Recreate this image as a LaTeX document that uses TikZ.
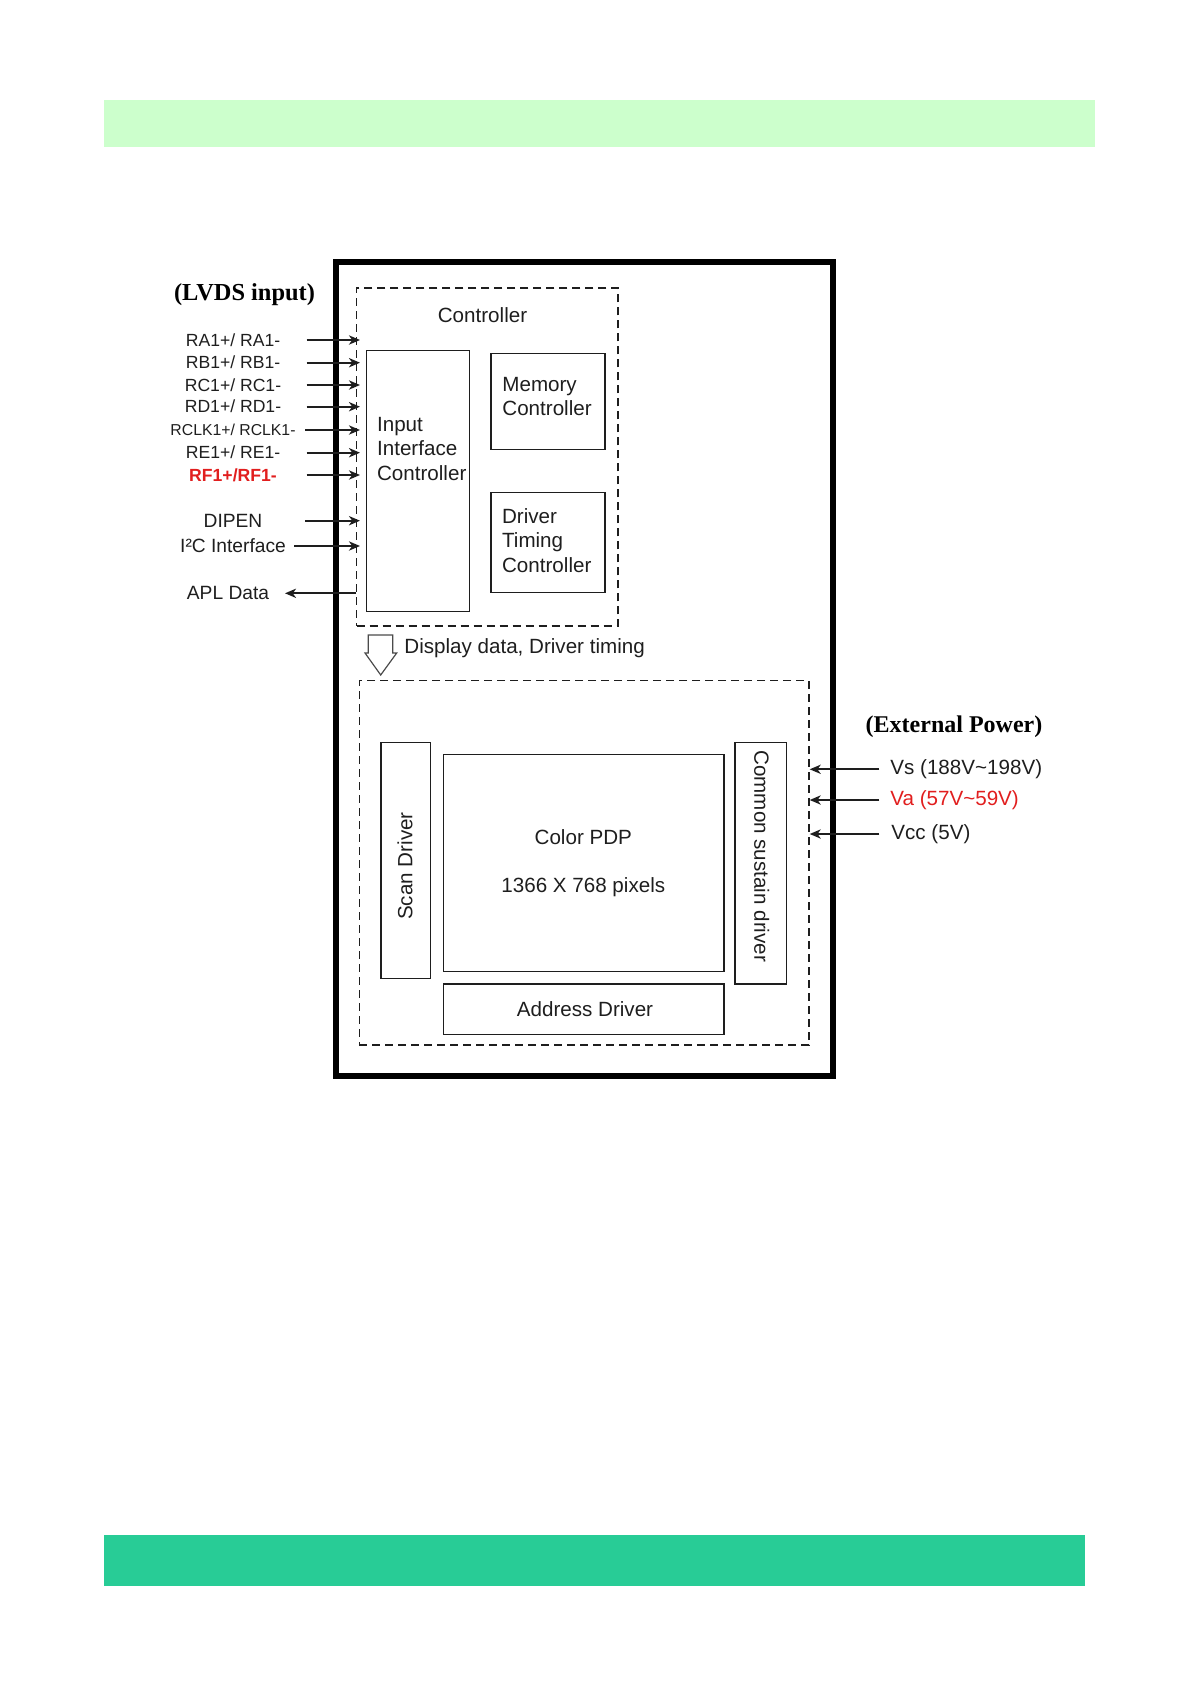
\documentclass[tikz,border=0pt]{standalone}
\usepackage{fontspec}
\setmainfont{Liberation Sans}
\newfontfamily\tms{Liberation Serif}
\usetikzlibrary{arrows.meta,fit}
\definecolor{topband}{RGB}{204,255,204}
\definecolor{botband}{RGB}{40,204,150}
\definecolor{redtxt}{RGB}{225,30,30}
\definecolor{ink}{RGB}{30,30,30}
\begin{document}
\begin{tikzpicture}[x=0.5pt,y=-0.5pt,
  thickbox/.style={draw=black, line width=2.6pt, inner sep=0pt},
  dashbox/.style={draw=ink, line width=0.7pt, dash pattern=on 4pt off 2.5pt, inner sep=0pt},
  blk/.style={draw=ink, line width=0.65pt, inner sep=0pt},
  lbl/.style={font=\fontsize{10.3}{12.3}\selectfont, text=ink, inner sep=0pt},
  sig/.style={font=\fontsize{8.8}{10}\selectfont, text=ink, inner sep=0pt},
  ttl/.style={font=\tms\bfseries\fontsize{12.2}{14}\selectfont, text=black, inner sep=0pt},
  arr/.style={-{Stealth[length=5.5pt,width=4.6pt,inset=1.6pt]}, line width=1pt, draw=ink},
  band/.style={inner sep=0pt, draw=none}
]
\useasboundingbox (0,0) rectangle (1191,1685);

% bands
\node[band, fill=topband, fit={(104,100) (1095,147)}] (topb) {};
\node[band, fill=botband, fit={(104,1535) (1085,1586)}] (botb) {};

% main frame
\node[thickbox, fit={(336,262) (833,1076)}] (main) {};

% controller section
\node[dashbox, fit={(356.7,288) (618,626)}] (ctrl) {};
\node[lbl] (ctrllbl) at (482.5,315) {Controller};
\node[blk, fit={(366.7,350.7) (469.3,611.7)}] (iic) {};
\node[lbl, anchor=west, align=left] (iict) at (376.7,449) {Input\\Interface\\Controller};
\node[blk, fit={(491,353.3) (605,449.3)}] (mem) {};
\node[lbl, anchor=west, align=left] (memt) at (502,396.5) {Memory\\Controller};
\node[blk, fit={(491,492.7) (605,592.7)}] (dtc) {};
\node[lbl, anchor=west, align=left] (dtct) at (501.7,540.5) {Driver\\Timing\\Controller};

% hollow arrow
\draw[draw=ink!80, line width=0.6pt, fill=white]
  (368.3,635) -- (392.7,635) -- (392.7,653) -- (396.7,653) -- (380.7,675)
  -- (365,653) -- (368.3,653) -- cycle;
\node[lbl, anchor=west] (ddt) at (404,648) {Display data, Driver timing};

% panel section
\node[dashbox, fit={(359.3,680.7) (809,1045)}] (lower) {};
\node[blk, fit={(381,742.7) (430.7,978.3)}] (scan) {};
\node[lbl, rotate=90] (scant) at (405,866) {Scan Driver};
\node[blk, fit={(443.3,754.3) (724,971.7)}] (pdp) {};
\node[lbl] (pdp1) at (583.3,836.7) {Color PDP};
\node[lbl] (pdp2) at (583.3,886.7) {1366 X 768 pixels};
\node[blk, fit={(735,742.7) (786.7,984)}] (csd) {};
\node[lbl, rotate=-90] (csdt) at (761.7,856.3) {Common sustain driver};
\node[blk, fit={(443.3,984) (724,1034.3)}] (addr) {};
\node[lbl] (addrt) at (585,1009.3) {Address Driver};

% LVDS input
\node[ttl] (lvds) at (244.5,295) {(LVDS input)};
\node[sig] (ra) at (233,340) {RA1+/ RA1-};
\node[sig] (rb) at (233,362.7) {RB1+/ RB1-};
\node[sig] (rc) at (233,385) {RC1+/ RC1-};
\node[sig] (rd) at (233,406.7) {RD1+/ RD1-};
\node[sig, font=\fontsize{7.9}{9}\selectfont] (rclk) at (233,430) {RCLK1+/ RCLK1-};
\node[sig] (re) at (233,452.7) {RE1+/ RE1-};
\node[sig, text=redtxt, font=\bfseries\fontsize{8.8}{10}\selectfont] (rf) at (233,475) {RF1+/RF1-};
\node[lbl, font=\fontsize{9.6}{11}\selectfont] (dipen) at (233,520.7) {DIPEN};
\node[lbl, font=\fontsize{9.6}{11}\selectfont] (i2c) at (233,546) {I²C Interface};
\node[lbl, font=\fontsize{9.6}{11}\selectfont] (apl) at (228,593.3) {APL Data};

\coordinate (ra-s) at (306.7,340);
\coordinate (rb-s) at (306.7,362.7);
\coordinate (rc-s) at (306.7,385);
\coordinate (rd-s) at (306.7,406.7);
\coordinate (rclk-s) at (305,430);
\coordinate (re-s) at (306.7,452.7);
\coordinate (rf-s) at (306.7,475);
\coordinate (dipen-s) at (305,520.7);
\coordinate (i2c-s) at (294,546);
\coordinate (apl-e) at (285,593.3);

\foreach \s in {ra,rb,rc,rd,rclk,re,rf,dipen,i2c}
  \draw[arr, shorten >=-2pt] (\s-s) -- (\s-s -| ctrl.west);
\draw[arr] (apl-e -| ctrl.west) -- (apl-e);

% External power
\node[ttl, font=\tms\bfseries\fontsize{12}{14}\selectfont] (ext) at (954,726.7) {(External Power)};
\node[lbl, anchor=west] (vs) at (890,769.3) {Vs (188V\textasciitilde198V)};
\node[lbl, anchor=west, text=redtxt] (va) at (890,800) {Va (57V\textasciitilde59V)};
\node[lbl, anchor=west] (vcc) at (891,834) {Vcc (5V)};
\coordinate (vs-s) at (879.3,769.3);
\coordinate (va-s) at (879.3,800);
\coordinate (vcc-s) at (879.3,834);
\foreach \s in {vs,va,vcc}
  \draw[arr] (\s-s) -- (\s-s -| lower.east);
\end{tikzpicture}
\end{document}
